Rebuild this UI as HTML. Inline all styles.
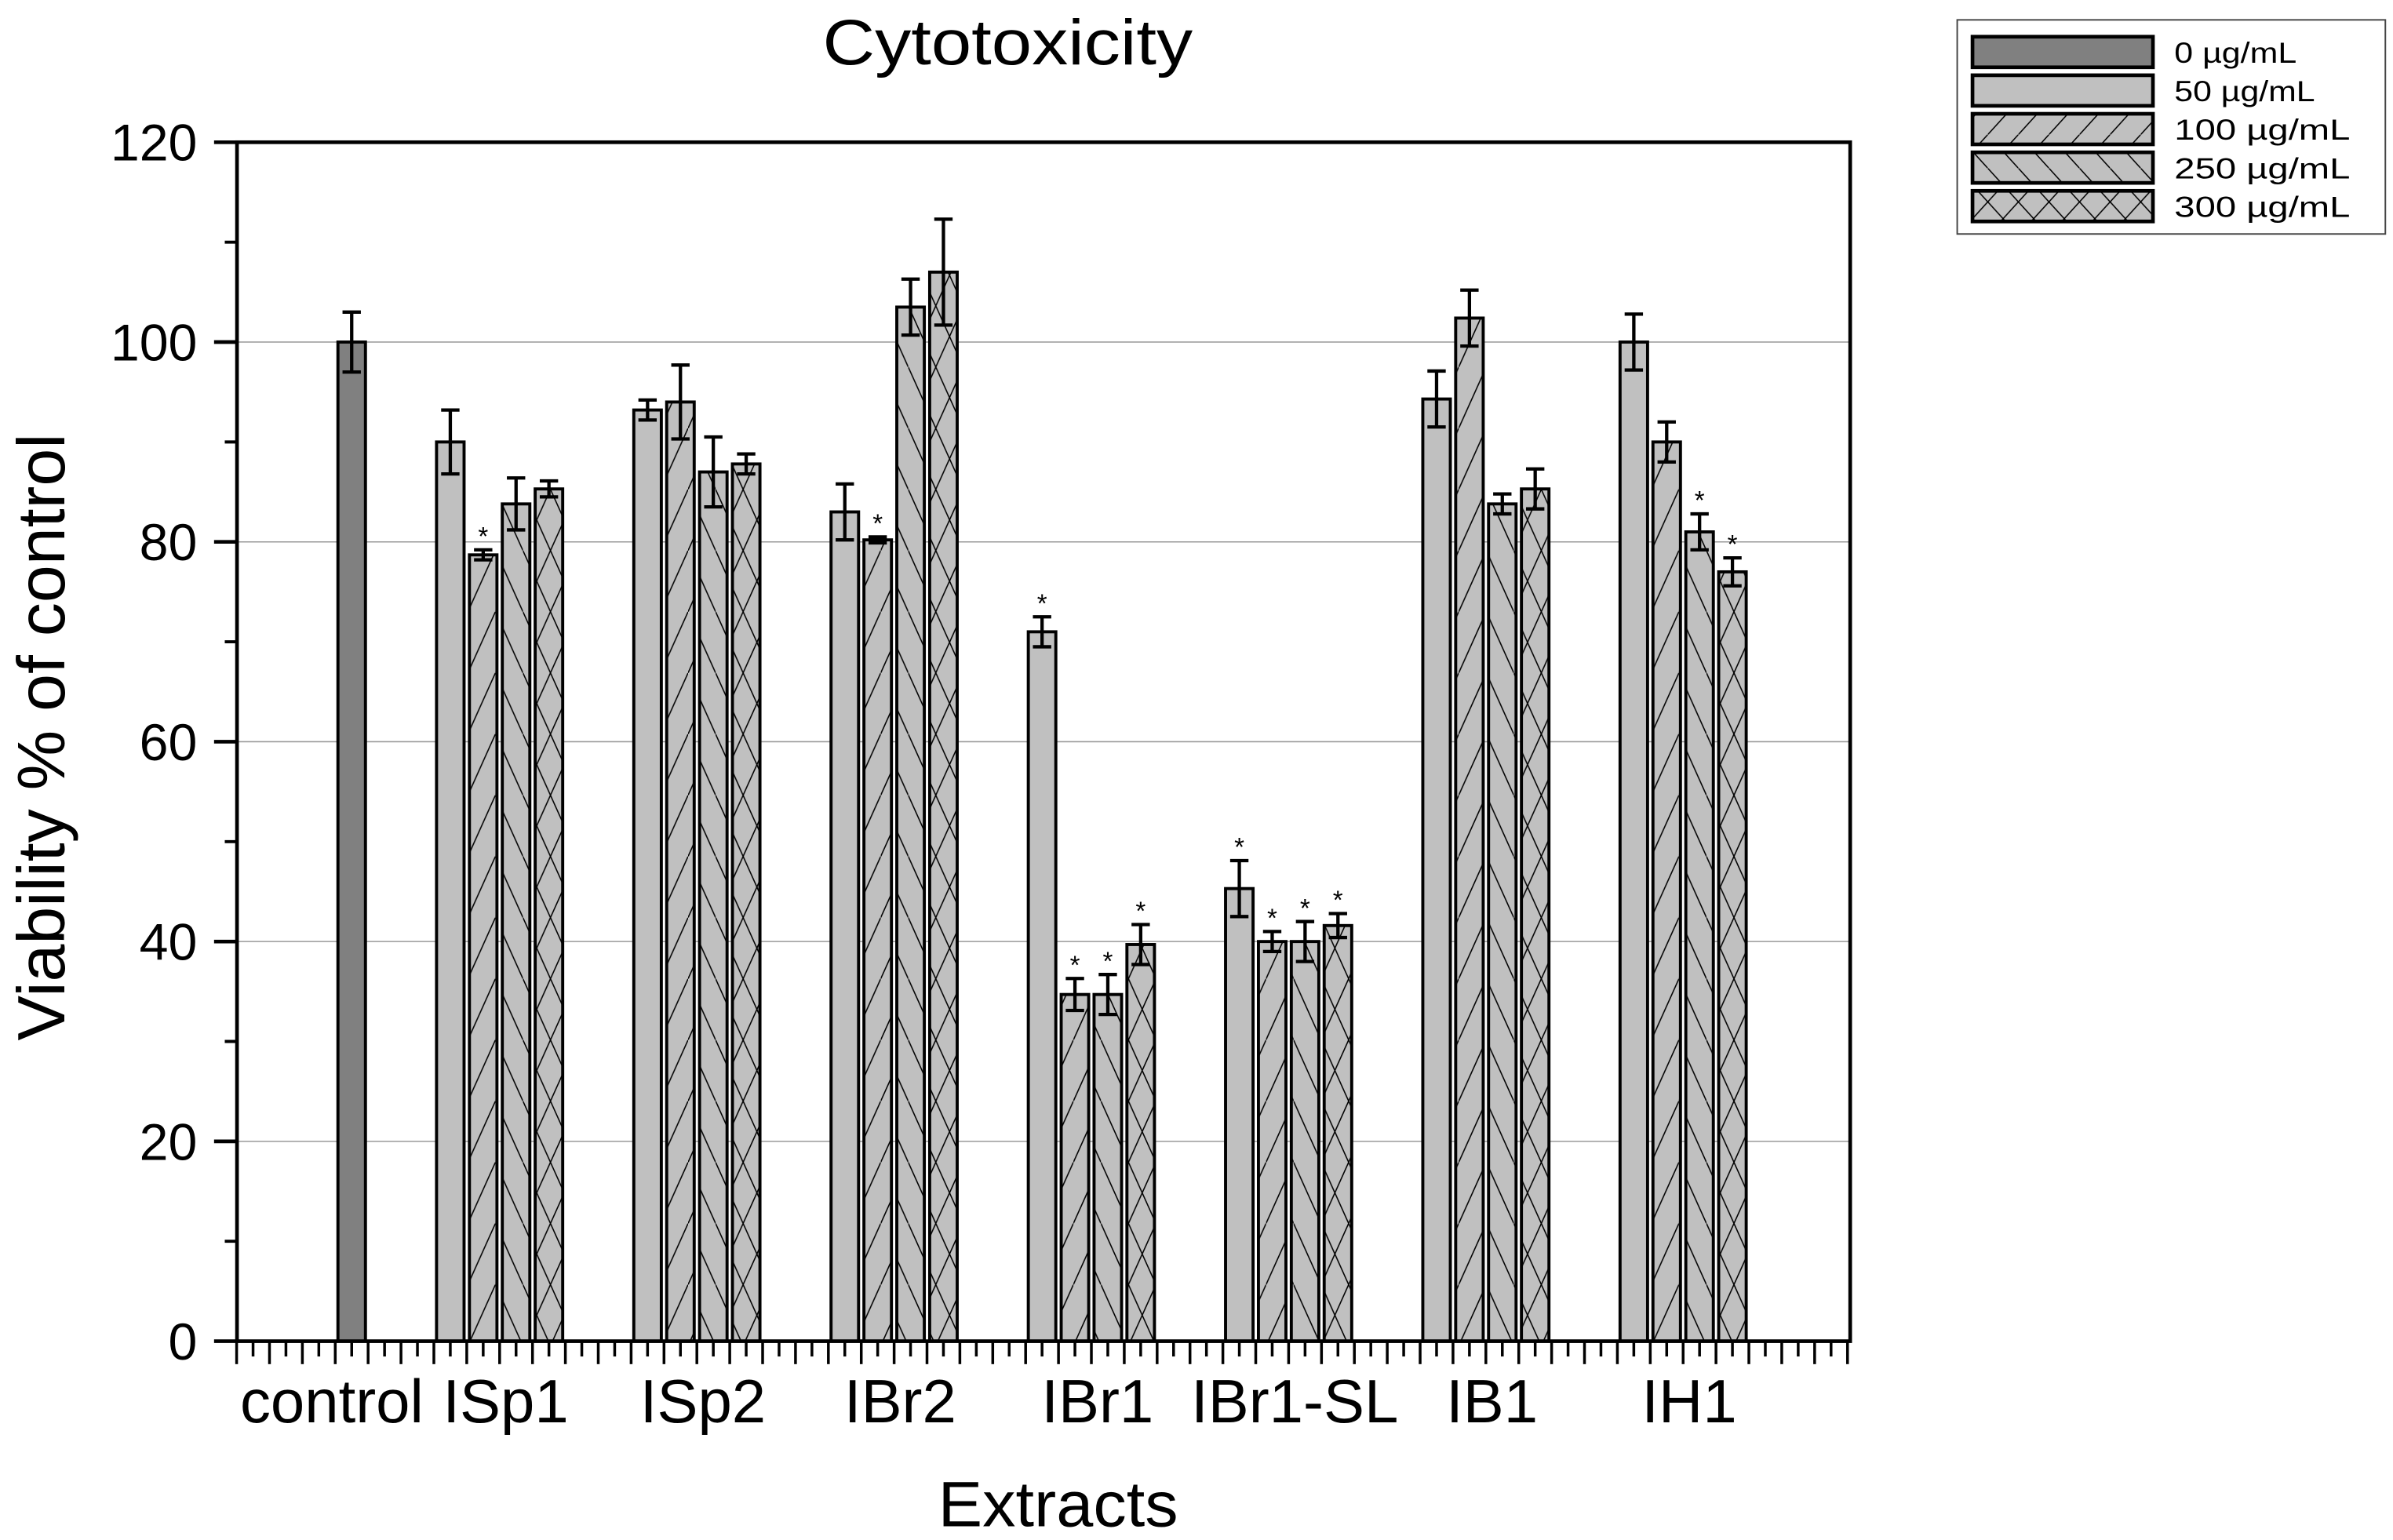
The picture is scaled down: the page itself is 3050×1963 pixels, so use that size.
<!DOCTYPE html>
<html><head><meta charset="utf-8"><style>html,body{margin:0;padding:0;background:#fff}svg{display:block}text{font-family:"Liberation Sans",Arial,sans-serif}</style></head>
<body>
<svg id="chart" xmlns="http://www.w3.org/2000/svg" width="3050" height="1963" viewBox="0 0 1565 1007" preserveAspectRatio="none">
<defs>
<pattern id="p100" patternUnits="userSpaceOnUse" width="18" height="40"><rect width="18" height="40" fill="#c0c0c0"/><line x1="0" y1="40" x2="18" y2="0" stroke="#000" stroke-width="0.8"/></pattern>
<pattern id="p250" patternUnits="userSpaceOnUse" width="18" height="40"><rect width="18" height="40" fill="#c0c0c0"/><line x1="0" y1="0" x2="18" y2="40" stroke="#000" stroke-width="0.8"/></pattern>
<pattern id="p300" patternUnits="userSpaceOnUse" width="18" height="40"><rect width="18" height="40" fill="#c0c0c0"/><line x1="0" y1="40" x2="18" y2="0" stroke="#000" stroke-width="0.8"/><line x1="0" y1="0" x2="18" y2="40" stroke="#000" stroke-width="0.8"/></pattern>
<pattern id="l100" patternUnits="userSpaceOnUse" width="20" height="22"><rect width="20" height="22" fill="#c0c0c0"/><line x1="0" y1="22" x2="20" y2="0" stroke="#000" stroke-width="0.8"/></pattern>
<pattern id="l250" patternUnits="userSpaceOnUse" width="20" height="22"><rect width="20" height="22" fill="#c0c0c0"/><line x1="0" y1="0" x2="20" y2="22" stroke="#000" stroke-width="0.8"/></pattern>
<pattern id="l300" patternUnits="userSpaceOnUse" width="20" height="22"><rect width="20" height="22" fill="#c0c0c0"/><line x1="0" y1="22" x2="20" y2="0" stroke="#000" stroke-width="0.8"/><line x1="0" y1="0" x2="20" y2="22" stroke="#000" stroke-width="0.8"/></pattern>
</defs>
<g id="g"></g>
</svg>
<script>
const groups = ["ISp1","ISp2","IBr2","IBr1","IBr1-SL","IB1","IH1"];
const controlValue = 100;
const controlErr = 3;
const v50  = [90, 93.2, 83, 71, 45.3, 94.3, 100];
const v100 = [78.7, 94, 80.2, 34.7, 40, 102.4, 90];
const v250 = [83.8, 87, 103.5, 34.7, 40, 83.8, 81];
const v300 = [85.3, 87.8, 107, 39.7, 41.6, 85.3, 77];
const e50  = [3.2, 1, 2.8, 1.5, 2.8, 2.8, 2.8];
const e100 = [0.5, 3.7, 0.3, 1.6, 1, 2.8, 2];
const e250 = [2.6, 3.5, 2.8, 2, 2, 1, 1.8];
const e300 = [0.8, 1, 5.3, 2, 1.2, 2, 1.4];
const s50  = [0,0,0,1,1,0,0];
const s100 = [1,0,1,1,1,0,0];
const s250 = [0,0,0,1,1,0,1];
const s300 = [0,0,0,1,1,0,1];
const yTicks = [0,20,40,60,80,100,120];
const seriesNames = ["0 µg/mL","50 µg/mL","100 µg/mL","250 µg/mL","300 µg/mL"];

const NS="http://www.w3.org/2000/svg";
const root=document.getElementById('g');
const L=155,R=1210,T=93,B=877;
const y=v=>B-(v/120)*(B-T);
const x=slot=>230+slot*21.5;
const BW=18;
function el(tag,attrs,parent){const e=document.createElementNS(NS,tag);for(const k in attrs)e.setAttribute(k,attrs[k]);(parent||root).appendChild(e);return e;}
function txt(s,attrs,parent){const e=el('text',attrs,parent);e.textContent=s;return e;}

yTicks.forEach(t=>{if(t>0&&t<120){const g=el('line',{x1:L,x2:R,y1:y(t),y2:y(t),stroke:'#999','stroke-width':0.8});

}});

function bar(slot,val,err,fill,star,name){
  const cx=x(slot);
  const r=el('rect',{x:cx-BW/2,y:y(val),width:BW,height:B-y(val),fill:fill,stroke:'#000','stroke-width':2});
  
  
  const eb=el('g',{stroke:'#000','stroke-width':2.2});
  
  
  el('line',{x1:cx,x2:cx,y1:y(val+err),y2:y(val-err)},eb);
  el('line',{x1:cx-6,x2:cx+6,y1:y(val+err),y2:y(val+err)},eb);
  el('line',{x1:cx-6,x2:cx+6,y1:y(val-err),y2:y(val-err)},eb);
  if(star){const s=txt('*',{x:cx,y:y(val+err)-3,'font-size':17,'text-anchor':'middle'});
  
  }
}
bar(0,controlValue,controlErr,'#808080',0,'bar-control');
const fills=['#c0c0c0','url(#p100)','url(#p250)','url(#p300)'];
const vals=[v50,v100,v250,v300],errs=[e50,e100,e250,e300],stars=[s50,s100,s250,s300];
groups.forEach((gname,g)=>{for(let k=0;k<4;k++){bar(6*g+3+k,vals[k][g],errs[k][g],fills[k],stars[k][g],'bar-'+gname.toLowerCase()+'-'+['50','100','250','300'][k]);}});

const fr=el('rect',{x:L,y:T,width:R-L,height:B-T,fill:'none',stroke:'#000','stroke-width':2.4});



yTicks.forEach(t=>{el('line',{x1:L-15,x2:L,y1:y(t),y2:y(t),stroke:'#000','stroke-width':2.4});
const lb=txt(String(t),{x:129,y:y(t)+12,'font-size':34,'text-anchor':'end'});


if(t<120)el('line',{x1:L-8,x2:L,y1:y(t+10),y2:y(t+10),stroke:'#000','stroke-width':2});});
for(let i=0;;i++){const s=-3.5+i*0.5;const px=x(s);if(px>R+1)break;el('line',{x1:px,x2:px,y1:B,y2:B+(i%2===0?15:10),stroke:'#000','stroke-width':1.8});}
const cl=txt('control',{x:217,y:930,'font-size':40,'text-anchor':'middle',textLength:120,lengthAdjust:'spacingAndGlyphs'});


groups.forEach((gname,g)=>{const lb=txt(gname,{x:x(6*g+4.5)+4,y:930,'font-size':40,'text-anchor':'middle'});

});

const tt=txt('Cytotoxicity',{x:659,y:42,'font-size':42,'text-anchor':'middle',textLength:242,lengthAdjust:'spacingAndGlyphs'});


const xt=txt('Extracts',{x:692,y:998,'font-size':42,'text-anchor':'middle',textLength:157,lengthAdjust:'spacingAndGlyphs'});


const yt=txt('Viability % of control',{x:0,y:0,'font-size':44,'text-anchor':'middle',textLength:397,lengthAdjust:'spacingAndGlyphs',transform:'translate(42,482) rotate(-90)'});



const lg=el('g',{});


el('rect',{x:1280,y:13,width:280,height:140,fill:'#fff',stroke:'#444','stroke-width':1},lg);
const lf=['#808080','#c0c0c0','url(#l100)','url(#l250)','url(#l300)'];
const lw=[80,92,115,115,115];
seriesNames.forEach((n,i)=>{const ry=24+i*25.2;
const sw=el('rect',{x:1290,y:ry,width:118,height:20,fill:lf[i],stroke:'#000','stroke-width':2.4},lg);


const lt=txt(n,{x:1422,y:ry+17,'font-size':19,textLength:lw[i],lengthAdjust:'spacingAndGlyphs'},lg);

});
</script>
</body></html>
